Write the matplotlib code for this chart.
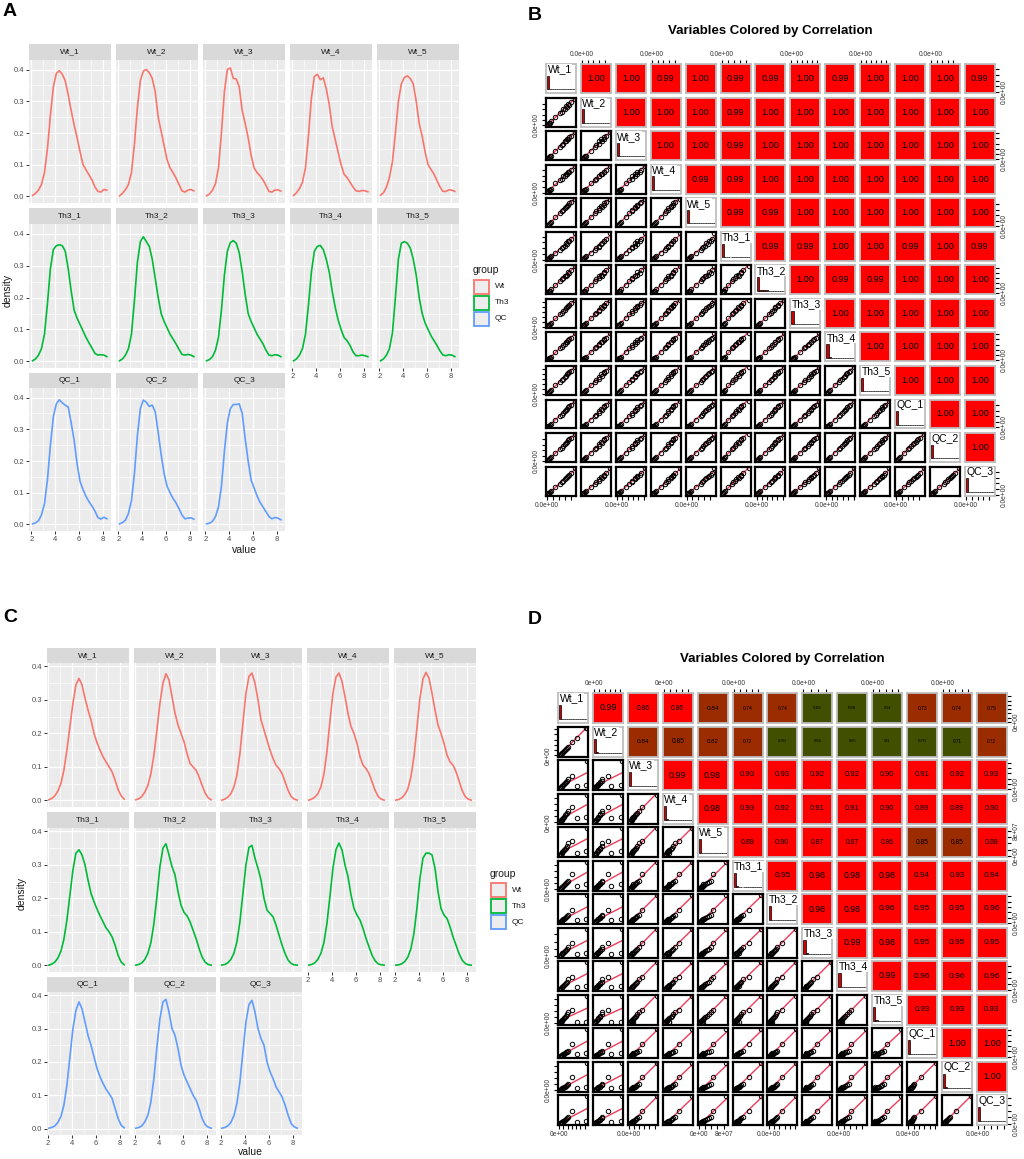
import numpy as np
import matplotlib
matplotlib.use('Agg')
import matplotlib.pyplot as plt
from matplotlib.patches import Rectangle

plt.rcParams['font.family'] = ['Liberation Sans', 'DejaVu Sans']

# ---------------- data: density panels (A and C) ----------------
GROUPS = ['Wt', 'Th3', 'QC']
GROUP_COLORS = ['#F8766D', '#00BA38', '#619CFF']
DENS_X = np.round(np.arange(2.1, 8.36, 0.25), 2)

A_WT = [
    [0.003, 0.010, 0.020, 0.038, 0.075, 0.150, 0.255, 0.345, 0.388, 0.396, 0.385, 0.365, 0.320,
     0.270, 0.225, 0.185, 0.140, 0.100, 0.084, 0.068, 0.052, 0.030, 0.016, 0.014, 0.022, 0.020],
    [0.002, 0.010, 0.022, 0.038, 0.075, 0.165, 0.280, 0.365, 0.395, 0.400, 0.390, 0.372, 0.330,
     0.250, 0.205, 0.160, 0.115, 0.090, 0.075, 0.058, 0.038, 0.018, 0.014, 0.020, 0.022, 0.018],
    [0.002, 0.008, 0.020, 0.040, 0.090, 0.200, 0.330, 0.400, 0.405, 0.372, 0.370, 0.345, 0.270,
     0.230, 0.185, 0.130, 0.090, 0.075, 0.065, 0.052, 0.035, 0.016, 0.014, 0.020, 0.021, 0.017],
    [0.003, 0.012, 0.025, 0.045, 0.090, 0.190, 0.310, 0.378, 0.385, 0.368, 0.374, 0.340, 0.290,
     0.220, 0.180, 0.140, 0.100, 0.070, 0.060, 0.045, 0.030, 0.018, 0.016, 0.019, 0.018, 0.015],
    [0.004, 0.012, 0.030, 0.060, 0.110, 0.200, 0.300, 0.355, 0.375, 0.380, 0.372, 0.355, 0.300,
     0.230, 0.190, 0.140, 0.100, 0.085, 0.070, 0.050, 0.030, 0.016, 0.016, 0.021, 0.020, 0.016],
]
A_TH3 = [
    [0.002, 0.008, 0.020, 0.040, 0.085, 0.180, 0.290, 0.350, 0.362, 0.365, 0.362, 0.345, 0.290,
     0.220, 0.160, 0.135, 0.115, 0.095, 0.075, 0.058, 0.042, 0.025, 0.020, 0.021, 0.020, 0.015],
    [0.002, 0.008, 0.020, 0.040, 0.085, 0.190, 0.310, 0.375, 0.390, 0.375, 0.360, 0.320, 0.260,
     0.200, 0.150, 0.125, 0.105, 0.085, 0.070, 0.055, 0.038, 0.022, 0.020, 0.022, 0.020, 0.015],
    [0.002, 0.006, 0.015, 0.035, 0.075, 0.160, 0.270, 0.345, 0.372, 0.378, 0.370, 0.340, 0.280,
     0.210, 0.150, 0.125, 0.105, 0.085, 0.070, 0.055, 0.035, 0.020, 0.018, 0.021, 0.020, 0.015],
    [0.002, 0.008, 0.020, 0.040, 0.085, 0.175, 0.280, 0.345, 0.360, 0.363, 0.350, 0.320, 0.280,
     0.220, 0.170, 0.130, 0.100, 0.075, 0.065, 0.050, 0.030, 0.018, 0.018, 0.020, 0.018, 0.015],
    [0.002, 0.008, 0.020, 0.040, 0.090, 0.200, 0.320, 0.370, 0.375, 0.370, 0.355, 0.320, 0.270,
     0.200, 0.150, 0.120, 0.100, 0.080, 0.065, 0.050, 0.033, 0.020, 0.018, 0.021, 0.020, 0.015],
]
A_QC = [
    [0.002, 0.005, 0.012, 0.030, 0.065, 0.140, 0.250, 0.340, 0.380, 0.393, 0.383, 0.376, 0.370,
     0.320, 0.265, 0.190, 0.135, 0.110, 0.088, 0.072, 0.058, 0.042, 0.022, 0.017, 0.023, 0.018],
    [0.002, 0.006, 0.014, 0.035, 0.075, 0.160, 0.280, 0.365, 0.392, 0.385, 0.372, 0.376, 0.355,
     0.290, 0.220, 0.160, 0.120, 0.100, 0.082, 0.068, 0.050, 0.030, 0.018, 0.020, 0.021, 0.017],
    [0.002, 0.004, 0.010, 0.025, 0.055, 0.120, 0.230, 0.320, 0.365, 0.378, 0.378, 0.380, 0.350,
     0.270, 0.200, 0.140, 0.115, 0.090, 0.070, 0.055, 0.040, 0.025, 0.018, 0.022, 0.020, 0.015],
]
C_WT = [
    [0.002, 0.006, 0.014, 0.028, 0.050, 0.090, 0.150, 0.220, 0.290, 0.345, 0.364, 0.345, 0.305,
     0.270, 0.240, 0.200, 0.172, 0.150, 0.130, 0.115, 0.100, 0.085, 0.060, 0.032, 0.014, 0.004],
    [0.002, 0.005, 0.012, 0.025, 0.045, 0.080, 0.135, 0.210, 0.290, 0.350, 0.378, 0.360, 0.310,
     0.260, 0.225, 0.200, 0.175, 0.140, 0.110, 0.100, 0.090, 0.070, 0.045, 0.022, 0.008, 0.002],
    [0.001, 0.004, 0.010, 0.020, 0.040, 0.075, 0.140, 0.230, 0.320, 0.370, 0.380, 0.350, 0.300,
     0.240, 0.210, 0.180, 0.150, 0.125, 0.105, 0.095, 0.080, 0.055, 0.030, 0.012, 0.004, 0.001],
    [0.001, 0.004, 0.010, 0.020, 0.040, 0.078, 0.145, 0.235, 0.320, 0.368, 0.380, 0.355, 0.310,
     0.260, 0.220, 0.200, 0.170, 0.130, 0.105, 0.095, 0.080, 0.055, 0.030, 0.012, 0.004, 0.001],
    [0.001, 0.003, 0.008, 0.018, 0.035, 0.070, 0.130, 0.215, 0.305, 0.362, 0.382, 0.365, 0.320,
     0.270, 0.225, 0.200, 0.170, 0.135, 0.115, 0.105, 0.085, 0.058, 0.030, 0.012, 0.004, 0.001],
]
C_TH3 = [
    [0.001, 0.004, 0.010, 0.022, 0.042, 0.078, 0.135, 0.210, 0.285, 0.335, 0.345, 0.330, 0.300,
     0.255, 0.215, 0.190, 0.168, 0.148, 0.130, 0.112, 0.100, 0.085, 0.060, 0.030, 0.010, 0.002],
    [0.001, 0.003, 0.008, 0.018, 0.036, 0.068, 0.125, 0.205, 0.295, 0.350, 0.363, 0.330, 0.295,
     0.270, 0.220, 0.180, 0.158, 0.148, 0.130, 0.105, 0.080, 0.050, 0.025, 0.010, 0.003, 0.001],
    [0.001, 0.003, 0.008, 0.018, 0.036, 0.070, 0.130, 0.215, 0.300, 0.352, 0.358, 0.320, 0.290,
     0.255, 0.200, 0.165, 0.155, 0.145, 0.120, 0.090, 0.060, 0.035, 0.016, 0.006, 0.002, 0.001],
    [0.001, 0.003, 0.008, 0.018, 0.036, 0.068, 0.125, 0.205, 0.290, 0.345, 0.365, 0.345, 0.300,
     0.265, 0.210, 0.170, 0.150, 0.135, 0.110, 0.080, 0.055, 0.030, 0.014, 0.005, 0.002, 0.001],
    [0.001, 0.002, 0.005, 0.012, 0.025, 0.050, 0.095, 0.170, 0.260, 0.320, 0.335, 0.335, 0.330,
     0.290, 0.220, 0.170, 0.150, 0.140, 0.115, 0.085, 0.060, 0.035, 0.016, 0.006, 0.002, 0.001],
]
C_QC = [
    [0.001, 0.003, 0.008, 0.018, 0.036, 0.070, 0.130, 0.215, 0.300, 0.355, 0.380, 0.360, 0.320,
     0.280, 0.250, 0.215, 0.180, 0.155, 0.135, 0.118, 0.105, 0.090, 0.060, 0.030, 0.010, 0.002],
    [0.001, 0.003, 0.008, 0.020, 0.040, 0.080, 0.150, 0.245, 0.330, 0.380, 0.388, 0.350, 0.300,
     0.280, 0.240, 0.190, 0.160, 0.140, 0.120, 0.100, 0.085, 0.060, 0.030, 0.012, 0.004, 0.001],
    [0.001, 0.003, 0.008, 0.018, 0.038, 0.075, 0.140, 0.230, 0.320, 0.372, 0.385, 0.350, 0.300,
     0.270, 0.250, 0.200, 0.170, 0.150, 0.125, 0.110, 0.095, 0.070, 0.040, 0.015, 0.005, 0.001],
]

# ---------------- data: correlation matrices (B and D) ----------------
VARS = ['Wt_1', 'Wt_2', 'Wt_3', 'Wt_4', 'Wt_5', 'Th3_1', 'Th3_2', 'Th3_3', 'Th3_4', 'Th3_5',
        'QC_1', 'QC_2', 'QC_3']

# sample values, as a fraction of each variable's maximum
B_WT = [
    [1.00, 0.85, 0.80, 0.76, 0.72, 0.68, 0.64, 0.58, 0.52, 0.46, 0.30, 0.14, 0.10, 0.07, 0.04, 0.01],
    [1.00, 0.88, 0.78, 0.80, 0.70, 0.72, 0.62, 0.60, 0.50, 0.48, 0.33, 0.15, 0.11, 0.08, 0.05, 0.01],
    [1.00, 0.86, 0.82, 0.74, 0.74, 0.66, 0.66, 0.56, 0.54, 0.44, 0.31, 0.13, 0.10, 0.07, 0.04, 0.01],
    [1.00, 0.84, 0.78, 0.78, 0.70, 0.70, 0.60, 0.60, 0.50, 0.47, 0.34, 0.15, 0.11, 0.08, 0.05, 0.01],
    [1.00, 0.90, 0.86, 0.80, 0.76, 0.70, 0.66, 0.60, 0.55, 0.50, 0.35, 0.15, 0.12, 0.08, 0.05, 0.01],
]
B_TH3 = [
    [1.00, 0.78, 0.70, 0.68, 0.60, 0.62, 0.52, 0.48, 0.42, 0.36, 0.24, 0.12, 0.09, 0.06, 0.04, 0.01],
    [1.00, 0.86, 0.76, 0.78, 0.68, 0.66, 0.64, 0.55, 0.52, 0.44, 0.30, 0.14, 0.10, 0.07, 0.05, 0.01],
    [1.00, 0.88, 0.80, 0.76, 0.72, 0.70, 0.62, 0.58, 0.50, 0.46, 0.31, 0.14, 0.11, 0.07, 0.05, 0.01],
    [1.00, 0.84, 0.80, 0.74, 0.70, 0.68, 0.62, 0.56, 0.50, 0.45, 0.30, 0.13, 0.10, 0.07, 0.04, 0.01],
    [1.00, 0.86, 0.82, 0.76, 0.74, 0.68, 0.64, 0.57, 0.53, 0.46, 0.32, 0.14, 0.10, 0.07, 0.05, 0.01],
]
B_QC = [
    [1.00, 0.85, 0.78, 0.75, 0.70, 0.66, 0.60, 0.55, 0.48, 0.44, 0.29, 0.13, 0.10, 0.07, 0.04, 0.01],
    [1.00, 0.87, 0.80, 0.77, 0.72, 0.68, 0.62, 0.57, 0.50, 0.45, 0.30, 0.14, 0.10, 0.07, 0.05, 0.01],
    [1.00, 0.80, 0.74, 0.70, 0.66, 0.60, 0.56, 0.50, 0.45, 0.40, 0.27, 0.12, 0.09, 0.06, 0.04, 0.01],
]
D_WT = [
    [1.00, 0.95, 0.63, 0.45, 0.32, 0.28, 0.25, 0.20, 0.17, 0.14, 0.11, 0.09, 0.07, 0.05, 0.03, 0.02],
    [1.00, 0.97, 0.62, 0.50, 0.30, 0.27, 0.22, 0.20, 0.16, 0.13, 0.10, 0.08, 0.06, 0.04, 0.03, 0.01],
    [1.00, 0.14, 0.10, 0.46, 0.36, 0.30, 0.26, 0.21, 0.18, 0.15, 0.12, 0.10, 0.07, 0.05, 0.03, 0.02],
    [1.00, 0.20, 0.17, 0.56, 0.42, 0.34, 0.30, 0.25, 0.20, 0.16, 0.13, 0.10, 0.08, 0.05, 0.03, 0.02],
    [1.00, 0.16, 0.12, 0.52, 0.45, 0.36, 0.30, 0.24, 0.20, 0.16, 0.13, 0.10, 0.08, 0.05, 0.03, 0.02],
]
D_TH3 = [
    [1.00, 0.19, 0.13, 0.55, 0.32, 0.25, 0.22, 0.18, 0.15, 0.12, 0.10, 0.08, 0.06, 0.04, 0.03, 0.01],
    [1.00, 0.13, 0.09, 0.47, 0.30, 0.26, 0.22, 0.19, 0.15, 0.13, 0.10, 0.08, 0.06, 0.04, 0.02, 0.01],
    [1.00, 0.11, 0.08, 0.48, 0.34, 0.28, 0.24, 0.20, 0.16, 0.13, 0.11, 0.08, 0.06, 0.04, 0.02, 0.01],
    [1.00, 0.13, 0.10, 0.46, 0.38, 0.30, 0.25, 0.21, 0.17, 0.14, 0.11, 0.09, 0.06, 0.04, 0.02, 0.01],
    [1.00, 0.05, 0.04, 0.50, 0.40, 0.33, 0.27, 0.22, 0.18, 0.15, 0.12, 0.09, 0.07, 0.04, 0.03, 0.01],
]
D_QC = [
    [1.00, 0.13, 0.09, 0.46, 0.22, 0.19, 0.16, 0.14, 0.12, 0.10, 0.08, 0.06, 0.05, 0.03, 0.02, 0.01],
    [1.00, 0.12, 0.08, 0.47, 0.24, 0.20, 0.17, 0.14, 0.12, 0.10, 0.08, 0.06, 0.05, 0.03, 0.02, 0.01],
    [1.00, 0.10, 0.08, 0.46, 0.25, 0.21, 0.17, 0.15, 0.12, 0.10, 0.08, 0.06, 0.05, 0.03, 0.02, 0.01],
]

# upper-triangle correlations, row by row
CORR_B = [
    [1.00, 1.00, 0.99, 1.00, 0.99, 0.99, 1.00, 0.99, 1.00, 1.00, 1.00, 0.99],
    [1.00, 1.00, 1.00, 0.99, 1.00, 1.00, 1.00, 1.00, 1.00, 1.00, 1.00],
    [1.00, 1.00, 0.99, 1.00, 1.00, 1.00, 1.00, 1.00, 1.00, 1.00],
    [0.99, 0.99, 1.00, 1.00, 1.00, 1.00, 1.00, 1.00, 1.00],
    [0.99, 0.99, 1.00, 1.00, 1.00, 1.00, 1.00, 1.00],
    [0.99, 0.99, 1.00, 1.00, 0.99, 1.00, 0.99],
    [1.00, 0.99, 0.99, 1.00, 1.00, 1.00],
    [1.00, 1.00, 1.00, 1.00, 1.00],
    [1.00, 1.00, 1.00, 1.00],
    [1.00, 1.00, 1.00],
    [1.00, 1.00],
    [1.00],
]
CORR_D = [
    [0.99, 0.86, 0.86, 0.84, 0.74, 0.74, 0.69, 0.68, 0.64, 0.73, 0.74, 0.75],
    [0.84, 0.85, 0.82, 0.72, 0.70, 0.66, 0.65, 0.61, 0.70, 0.71, 0.72],
    [0.99, 0.98, 0.93, 0.93, 0.92, 0.92, 0.90, 0.91, 0.92, 0.93],
    [0.98, 0.93, 0.92, 0.91, 0.91, 0.90, 0.89, 0.89, 0.90],
    [0.88, 0.90, 0.87, 0.87, 0.86, 0.85, 0.85, 0.88],
    [0.95, 0.98, 0.98, 0.98, 0.94, 0.93, 0.94],
    [0.98, 0.98, 0.96, 0.95, 0.95, 0.96],
    [0.99, 0.98, 0.95, 0.95, 0.95],
    [0.99, 0.96, 0.96, 0.96],
    [0.93, 0.93, 0.93],
    [1.00, 1.00],
    [1.00],
]
CORR_BREAKS = [0.715, 0.855]
CORR_COLORS = ['#404F00', '#9B2C00', '#FF0000']

# axis maxima and tick steps (units of 1e7)
VMAX_B = [9.5, 9.8, 10.4, 9.6, 9.7, 9.3, 10.6, 10.9, 10.2, 11.0, 9.6, 9.9, 9.5]
VMAX_D = [13.0, 10.5, 10.8, 9.2, 8.9, 9.0, 10.4, 7.5, 9.4, 9.0, 10.2, 9.0, 8.6]
TICK_STEP = 2.0
FMT_B = ['0.0e+00'] * 13
FMT_D = ['0e+00', '0e+00', '0.0e+00', '0e+00', '0e+00'] + ['0.0e+00'] * 8
END_LABEL_D = ['', '', '', '', '8e+07'] + [''] * 8
HIST_BINS = [1.0, 0.015, 0.008, 0.006, 0.004, 0.003, 0.002, 0.002, 0.001, 0.001, 0.001, 0.001, 0.001]

W, H = 1024, 1159
fig = plt.figure(figsize=(W / 100, H / 100), dpi=100)


def px_axes(x, y, w, h):
    return fig.add_axes([x / W, 1 - (y + h) / H, w / W, h / H])


def fig_text(x, y, s, **kw):
    fig.text(x / W, 1 - y / H, s, **kw)


def draw_facets(col_x, rows, pw, xlim, ylim, curves_by_group):
    for gi, curves in enumerate(curves_by_group):
        st, pt, pb = rows[gi]
        for ci, yv in enumerate(curves):
            x = col_x[ci]
            ax = px_axes(x, pt, pw, pb - pt)
            ax.set_facecolor('#EBEBEB')
            ax.plot(DENS_X, yv, color=GROUP_COLORS[gi], lw=1.2)
            ax.set_xlim(xlim)
            ax.set_ylim(ylim)
            ax.set_xticks([2, 4, 6, 8])
            ax.set_xticks([3, 5, 7], minor=True)
            ax.set_yticks([0, 0.1, 0.2, 0.3, 0.4])
            ax.set_yticks([0.05, 0.15, 0.25, 0.35], minor=True)
            ax.set_yticklabels(['0.0', '0.1', '0.2', '0.3', '0.4'])
            ax.grid(which='major', color='white', lw=0.9)
            ax.grid(which='minor', color='white', lw=0.45)
            ax.set_axisbelow(True)
            for s in ax.spines.values():
                s.set_visible(False)
            ax.tick_params(which='minor', length=0)
            ax.tick_params(which='major', length=2, width=0.7, color='#333333',
                           labelsize=5.5, labelcolor='#4D4D4D', pad=1.5)
            show_x = gi == 2 or (gi == 1 and ci >= 3)
            if not show_x:
                ax.tick_params(axis='x', length=0, labelbottom=False)
            if ci != 0:
                ax.tick_params(axis='y', length=0, labelleft=False)
            sax = px_axes(x, st, pw, pt - st)
            sax.set_facecolor('#D9D9D9')
            sax.set_xticks([])
            sax.set_yticks([])
            for s in sax.spines.values():
                s.set_visible(False)
            sax.text(0.5, 0.5, f'{GROUPS[gi]}_{ci + 1}', ha='center', va='center',
                     fontsize=6, color='#1A1A1A')


def draw_legend(x, y_title, key_top):
    fig_text(x, y_title, 'group', fontsize=7.5, va='center', ha='left', color='#1A1A1A')
    for k, (g, c) in enumerate(zip(GROUPS, GROUP_COLORS)):
        ky = key_top + k * 16
        fig.patches.append(Rectangle(((x + 1) / W, 1 - (ky + 14) / H), 15 / W, 14 / H,
                                     transform=fig.transFigure, facecolor='#EDEDED',
                                     edgecolor=c, lw=1.3))
        fig_text(x + 22, ky + 7, g, fontsize=6, va='center', ha='left', color='#1A1A1A')


def tick_pos(vmax):
    return np.arange(0, vmax + 1e-9, TICK_STEP) / vmax


def tick_labels(k, n, fmt, end_label):
    labs = [fmt[k]] + [''] * (n - 1)
    if end_label is not None and end_label[k]:
        labs[-1] = end_label[k]
    return labs


def corr_color(r):
    return CORR_COLORS[int(np.searchsorted(CORR_BREAKS, r))]


def draw_pairs(data, corr, x0, y0, pitch_x, pitch_y, cw, ch, vmax, fmt, end_label):
    n = len(VARS)
    for i in range(n):
        for j in range(n):
            ax = px_axes(x0 + j * pitch_x, y0 + i * pitch_y, cw, ch)
            ax.set_xlim(-0.04, 1.04)
            ax.set_ylim(-0.04, 1.04)
            ax.set_xticks([])
            ax.set_yticks([])
            if i > j:
                xs = np.array(data[j])
                ys = np.array(data[i])
                coef = np.polyfit(xs, ys, 1)
                xx = np.array([-0.04, 1.04])
                ax.plot(xx, np.polyval(coef, xx), color='#EE3B5B', lw=1.0, zorder=1)
                ax.plot(xs, ys, 'o', mfc='none', mec='black', ms=3.2, mew=0.7, zorder=2)
                for s in ax.spines.values():
                    s.set_color('black')
                    s.set_linewidth(1.6)
            elif i == j:
                bw = 0.08
                lefts = np.arange(len(HIST_BINS)) * bw
                ax.bar(lefts, np.array(HIST_BINS) * 0.5, bottom=0.1, width=bw, align='edge',
                       color='#CC0000', edgecolor='black', lw=0.5)
                ax.text(0.05, 0.98, VARS[i], transform=ax.transAxes, ha='left', va='top',
                        fontsize=7.5, bbox=dict(facecolor='white', edgecolor='none', pad=0.3))
                for s in ax.spines.values():
                    s.set_color('#BEBEBE')
                    s.set_linewidth(1.3)
            else:
                r = corr[i][j - i - 1]
                ax.set_facecolor(corr_color(r))
                ax.text(0.5, 0.5, f'{r:.2f}', transform=ax.transAxes, ha='center',
                        va='center', fontsize=6.6 * r ** 2)
                for s in ax.spines.values():
                    s.set_color('#BEBEBE')
                    s.set_linewidth(1.3)

            tp = dict(length=3, width=0.8, labelsize=4.8, labelcolor='#333333', pad=1.5)
            if i == 0 and j % 2 == 1:
                t = tick_pos(vmax[j])
                ax.set_xticks(t)
                ax.set_xticklabels(tick_labels(j, len(t), fmt, end_label))
                ax.tick_params(axis='x', top=True, bottom=False, labeltop=True,
                               labelbottom=False, **tp)
            if i == n - 1 and j % 2 == 0:
                t = tick_pos(vmax[j])
                ax.set_xticks(t)
                ax.set_xticklabels(tick_labels(j, len(t), fmt, end_label))
                ax.tick_params(axis='x', **tp)
            if j == 0 and i % 2 == 1:
                t = tick_pos(vmax[i])
                ax.set_yticks(t)
                ax.set_yticklabels(tick_labels(i, len(t), fmt, end_label),
                                   rotation=90, va='center')
                ax.tick_params(axis='y', **tp)
            if j == n - 1 and i % 2 == 0:
                t = tick_pos(vmax[i])
                ax.set_yticks(t)
                ax.set_yticklabels(tick_labels(i, len(t), fmt, end_label),
                                   rotation=90, va='center')
                ax.tick_params(axis='y', left=False, right=True, labelleft=False,
                               labelright=True, **tp)


# ---------------- panel A ----------------
draw_facets([29, 116, 203, 290, 377], [(44, 60, 203), (208, 224, 368), (373, 388, 531)], 82,
            (1.8, 8.7), (-0.0205, 0.43), [A_WT, A_TH3, A_QC])
fig_text(8, 290, 'density', rotation=90, fontsize=7.5, ha='center', va='center', color='#1A1A1A')
fig_text(244, 550, 'value', fontsize=7.5, ha='center', va='center', color='#1A1A1A')
draw_legend(473, 270, 280)
fig_text(3, 12, 'A', fontsize=14, fontweight='bold', va='center')

# ---------------- panel C ----------------
draw_facets([47, 134, 220, 307, 394], [(648, 663, 807), (812, 828, 972), (977, 992, 1135)], 82,
            (1.95, 8.75), (-0.0195, 0.41), [C_WT, C_TH3, C_QC])
fig_text(22, 893, 'density', rotation=90, fontsize=7.5, ha='center', va='center', color='#1A1A1A')
fig_text(250, 1152, 'value', fontsize=7.5, ha='center', va='center', color='#1A1A1A')
draw_legend(490, 874, 883)
fig_text(3, 618, 'C', fontsize=14, fontweight='bold', va='center')

# ---------------- panel B ----------------
draw_pairs(B_WT + B_TH3 + B_QC, CORR_B, 546, 64, 34.9, 33.55, 30, 29, VMAX_B, FMT_B, None)
fig_text(770, 31, 'Variables Colored by Correlation', fontsize=9.5, fontweight='bold',
         ha='center', va='center')
fig_text(528, 15, 'B', fontsize=14, fontweight='bold', va='center')

# ---------------- panel D ----------------
draw_pairs(D_WT + D_TH3 + D_QC, CORR_D, 558, 693, 34.9, 33.5, 30, 30, VMAX_D, FMT_D, END_LABEL_D)
fig_text(782, 659, 'Variables Colored by Correlation', fontsize=9.5, fontweight='bold',
         ha='center', va='center')
fig_text(528, 620, 'D', fontsize=14, fontweight='bold', va='center')

fig.savefig('out.png', dpi=100)
